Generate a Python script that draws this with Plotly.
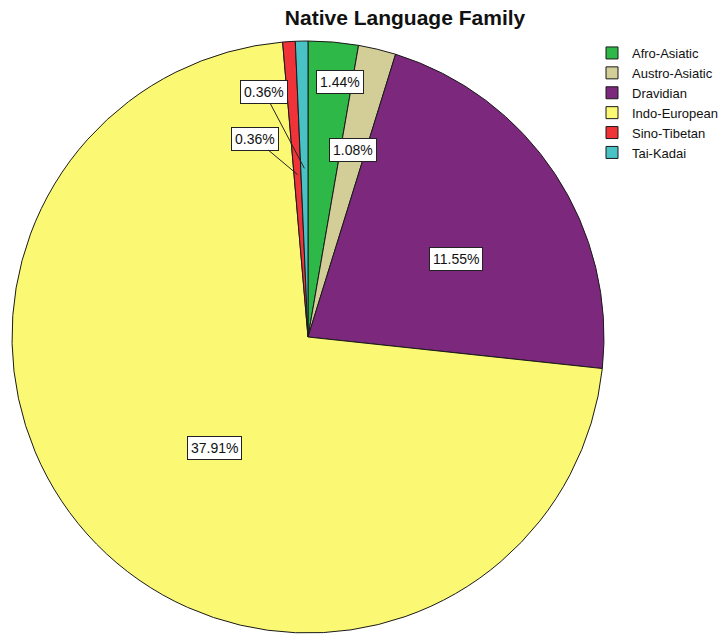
import math
import plotly.graph_objects as go

# Native language family shares (percent of all respondents)
families = ["Afro-Asiatic", "Austro-Asiatic", "Dravidian", "Indo-European", "Sino-Tibetan", "Tai-Kadai"]
percents = [1.44, 1.08, 11.55, 37.91, 0.36, 0.36]
colors = ["#2EB848", "#D3CE97", "#7C287D", "#FBF873", "#EF3338", "#48C2C5"]

W, H = 722, 634
CX_PX, CY_PX, R_PX = 308, 337, 296  # pie centre and radius in pixels

dom_x = [(CX_PX - R_PX) / W, (CX_PX + R_PX) / W]
dom_y = [(H - CY_PX - R_PX) / H, (H - CY_PX + R_PX) / H]

fig = go.Figure(
    go.Pie(
        labels=families,
        values=percents,
        sort=False,
        direction="clockwise",
        rotation=0,
        marker=dict(colors=colors, line=dict(color="#1a1a1a", width=1)),
        textinfo="none",
        hoverinfo="label+value",
        domain=dict(x=dom_x, y=dom_y),
    )
)

# label placement: radial distance as fraction of radius, small pixel nudges,
# and leader-line offsets (pixels) for the thin slices
label_radius = [0.87, 0.65, 0.56, 0.49, 0.55, 0.57]
label_nudge = [(10, -2), (0, 0), (10, -13), (10, -10), (0, 0), (0, 0)]
leader_offset = [None, None, None, None, (-43, -36), (-40, -76)]

total = sum(percents)
start = 0.0
cx = sum(dom_x) / 2
cy = sum(dom_y) / 2
for v, rf, nudge, off in zip(percents, label_radius, label_nudge, leader_offset):
    span = 360.0 * v / total
    mid = math.radians(start + span / 2)
    start += span
    r = rf * R_PX
    x = cx + r * math.sin(mid) / W
    y = cy + r * math.cos(mid) / H
    ann = dict(
        x=x, y=y, xref="paper", yref="paper",
        xanchor="center", yanchor="middle",
        xshift=nudge[0], yshift=nudge[1],
        text=f"{v:.2f}%",
        font=dict(family="Arial, Liberation Sans, sans-serif", size=14, color="#111"),
        bgcolor="white", bordercolor="#222", borderwidth=1, borderpad=3,
    )
    if off is None:
        ann.update(showarrow=False)
    else:
        ann.update(showarrow=True, arrowhead=0, arrowwidth=1, arrowcolor="#222",
                   ax=off[0], ay=off[1], standoff=0)
    fig.add_annotation(**ann)

fig.update_layout(
    width=W, height=H,
    margin=dict(l=0, r=0, t=0, b=0, autoexpand=False),
    paper_bgcolor="white",
    plot_bgcolor="white",
    title=dict(
        text="<b>Native Language Family</b>",
        x=0.561, xanchor="center", y=1 - 18 / H, yanchor="middle",
        font=dict(family="Arial, Liberation Sans, sans-serif", size=21, color="#111"),
    ),
    legend=dict(
        xref="container", yref="container",
        x=592 / W, xanchor="left", y=1 - 38 / H, yanchor="top",
        font=dict(family="Arial, Liberation Sans, sans-serif", size=13, color="#111"),
        tracegroupgap=0, itemwidth=30,
        bgcolor="rgba(0,0,0,0)",
    ),
    showlegend=True,
)

fig.write_html("out.html")
